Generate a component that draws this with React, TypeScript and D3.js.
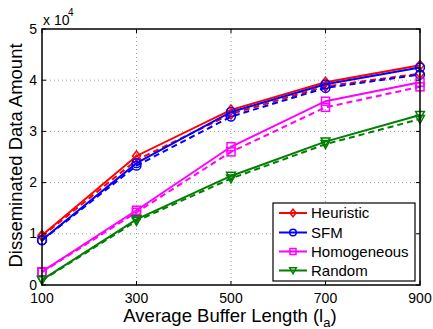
import * as d3 from "d3";

const W = 433;
const H = 329;

// buffer lengths on the x axis
const bufferLengths = [100, 300, 500, 700, 900];
const yTicks = [0, 1, 2, 3, 4, 5];

// values in units of 10^4
const heuristicSolid = [0.97, 2.52, 3.42, 3.96, 4.29];
const heuristicDashed = [0.95, 2.44, 3.34, 3.88, 4.13];
const sfmSolid = [0.88, 2.38, 3.38, 3.92, 4.25];
const sfmDashed = [0.87, 2.33, 3.29, 3.85, 4.11];
const homogeneousSolid = [0.26, 1.46, 2.7, 3.59, 3.96];
const homogeneousDashed = [0.25, 1.42, 2.6, 3.47, 3.87];
const randomSolid = [0.1, 1.28, 2.13, 2.8, 3.32];
const randomDashed = [0.09, 1.25, 2.08, 2.75, 3.24];

const seriesNames = ["Heuristic", "SFM", "Homogeneous", "Random"];

const series = [
  { name: "Heuristic", color: "#ff0000", marker: "diamond", solid: heuristicSolid, dashed: heuristicDashed },
  { name: "SFM", color: "#0000ff", marker: "circle", solid: sfmSolid, dashed: sfmDashed },
  { name: "Homogeneous", color: "#ff00ff", marker: "square", solid: homogeneousSolid, dashed: homogeneousDashed },
  { name: "Random", color: "#008000", marker: "triangle", solid: randomSolid, dashed: randomDashed },
];

const margin = { top: 29, right: 13, bottom: 44, left: 42 };
const FONT = "Liberation Sans, Arial, sans-serif";

function Marker({ type, x, y, color, s }: { type: string; x: number; y: number; color: string; s: number }) {
  const common = { fill: "none", stroke: color, strokeWidth: 1.5 };
  if (type === "circle") return <circle cx={x} cy={y} r={s * 0.55} {...common} />;
  if (type === "square") return <rect x={x - s / 2} y={y - s / 2} width={s} height={s} {...common} />;
  if (type === "diamond")
    return <path d={`M${x},${y - s * 0.62}L${x + s * 0.5},${y}L${x},${y + s * 0.62}L${x - s * 0.5},${y}Z`} {...common} />;
  // downward triangle
  return <path d={`M${x - s * 0.55},${y - s * 0.45}L${x + s * 0.55},${y - s * 0.45}L${x},${y + s * 0.55}Z`} {...common} />;
}

export default function App() {
  const innerW = W - margin.left - margin.right;
  const innerH = H - margin.top - margin.bottom;

  const x = d3.scaleLinear().domain([100, 900]).range([margin.left, margin.left + innerW]);
  const y = d3.scaleLinear().domain([0, 5]).range([margin.top + innerH, margin.top]);

  const line = d3
    .line<number>()
    .x((_, i) => x(bufferLengths[i]))
    .y((d) => y(d));

  const left = margin.left;
  const right = margin.left + innerW;
  const top = margin.top;
  const bottom = margin.top + innerH;

  // legend box
  const lg = { x: 273, y: 203, w: 142, h: 78 };
  const rowY = [213, 232.5, 251.5, 270.5];

  return (
    <svg width={W} height={H} style={{ position: "absolute", left: 0, top: 0, background: "#fff" }} fontFamily={FONT}>
      <rect x={0} y={0} width={W} height={H} fill="#fff" />

      {/* grid */}
      {bufferLengths.slice(1, -1).map((t) => (
        <line key={"gx" + t} x1={x(t)} x2={x(t)} y1={top} y2={bottom} stroke="#888" strokeWidth={0.8} strokeDasharray="1,3" />
      ))}
      {yTicks.slice(1, -1).map((t) => (
        <line key={"gy" + t} x1={left} x2={right} y1={y(t)} y2={y(t)} stroke="#888" strokeWidth={0.8} strokeDasharray="1,3" />
      ))}

      {/* lines */}
      {series.map((s) => (
        <g key={s.name}>
          <path d={line(s.dashed) || ""} fill="none" stroke={s.color} strokeWidth={2} strokeDasharray="6,4" />
          <path d={line(s.solid) || ""} fill="none" stroke={s.color} strokeWidth={2} />
          {s.dashed.map((v, i) => (
            <Marker key={"d" + i} type={s.marker} x={x(bufferLengths[i])} y={y(v)} color={s.color} s={8} />
          ))}
          {s.solid.map((v, i) => (
            <Marker key={"s" + i} type={s.marker} x={x(bufferLengths[i])} y={y(v)} color={s.color} s={8} />
          ))}
        </g>
      ))}

      {/* axes box and ticks */}
      <rect x={left} y={top} width={innerW} height={innerH} fill="none" stroke="#000" strokeWidth={1.5} />
      {bufferLengths.map((t) => (
        <g key={"tx" + t}>
          <line x1={x(t)} x2={x(t)} y1={bottom} y2={bottom - 4} stroke="#000" />
          <line x1={x(t)} x2={x(t)} y1={top} y2={top + 4} stroke="#000" />
          <text x={x(t)} y={bottom + 17.5} fontSize={14} textAnchor="middle">
            {t}
          </text>
        </g>
      ))}
      {yTicks.map((t) => (
        <g key={"ty" + t}>
          <line x1={left} x2={left + 4} y1={y(t)} y2={y(t)} stroke="#000" />
          <line x1={right} x2={right - 4} y1={y(t)} y2={y(t)} stroke="#000" />
          <text x={left - 5} y={y(t) + 4.5} fontSize={14} textAnchor="end">
            {t}
          </text>
        </g>
      ))}

      {/* exponent */}
      <text x={43} y={25} fontSize={14}>
        x 10
      </text>
      <text x={68} y={16} fontSize={10}>
        4
      </text>

      {/* axis labels */}
      <text x={230} y={322} fontSize={18.5} textAnchor="middle">
        Average Buffer Length (l
        <tspan dy={5} fontSize={13}>a</tspan>
        <tspan dy={-5}>)</tspan>
      </text>
      <text transform={`translate(22,155.5) rotate(-90)`} fontSize={18.5} textAnchor="middle">
        Disseminated Data Amount
      </text>

      {/* legend */}
      <rect x={lg.x} y={lg.y} width={lg.w} height={lg.h} fill="#fff" stroke="#000" strokeWidth={1.2} />
      {series.map((s, i) => (
        <g key={"lg" + s.name}>
          <line x1={279} x2={307} y1={rowY[i]} y2={rowY[i]} stroke={s.color} strokeWidth={2} />
          <Marker type={s.marker} x={293} y={rowY[i]} color={s.color} s={6} />
          <text x={311} y={rowY[i] + 5} fontSize={15}>
            {seriesNames[i]}
          </text>
        </g>
      ))}
    </svg>
  );
}
